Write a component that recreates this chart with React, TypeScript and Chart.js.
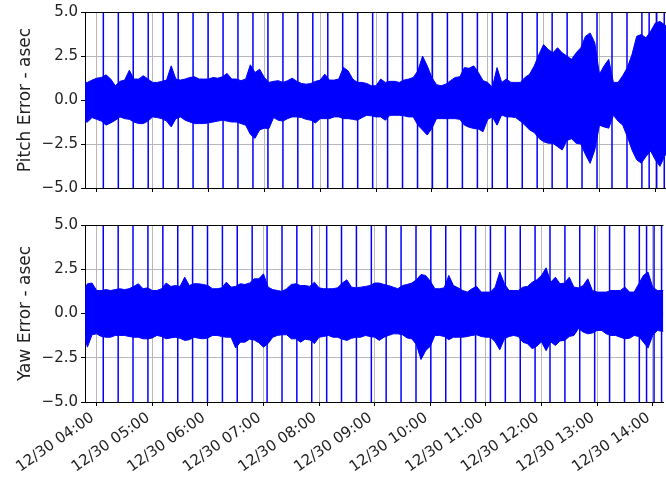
import React, { useEffect, useRef } from 'react';
import { Chart, registerables } from 'chart.js';

Chart.register(...registerables);

// Sample times (minutes after midnight, 12/30) for the envelope of the error signal
const SAMPLE_MINUTES = [
  227,
  230, 235, 240, 245, 250, 255, 260, 265, 270, 275,
  280, 285, 290, 295, 300, 305, 310, 315, 320, 325,
  330, 335, 340, 345, 350, 355, 360, 365, 370, 375,
  380, 385, 390, 395, 400, 405, 410, 415, 420, 425,
  430, 435, 440, 445, 450, 455, 460, 465, 470, 475,
  480, 485, 490, 495, 500, 505, 510, 515, 520, 525,
  530, 535, 540, 545, 550, 555, 560, 565, 570, 575,
  580, 585, 590, 595, 600, 605, 610, 615, 620, 625,
  630, 635, 640, 645, 650, 655, 660, 665, 670, 675,
  680, 685, 690, 695, 700, 705, 710, 715, 720, 725,
  730, 735, 740, 745, 750, 755, 760, 765, 770, 775,
  780, 785, 790, 795, 800, 805, 810, 815, 820, 825,
  830, 835, 840, 845, 850,
  852,
];

const PITCH_UPPER = [
  1.00,
  1.00, 1.13, 1.24, 1.28, 1.43, 1.19, 0.81, 1.06, 1.13, 1.69,
  1.19, 1.19, 1.38, 1.19, 1.00, 1.00, 1.06, 1.13, 1.94, 1.19,
  1.13, 1.19, 1.28, 1.32, 1.19, 1.19, 1.19, 1.28, 1.24, 1.32,
  1.51, 1.19, 1.19, 1.10, 1.19, 2.00, 1.56, 1.75, 1.28, 1.00,
  1.06, 1.10, 1.00, 1.10, 1.24, 1.06, 0.94, 0.90, 0.94, 1.06,
  1.13, 1.47, 1.13, 1.13, 1.19, 1.85, 1.66, 1.19, 1.00, 1.00,
  0.94, 0.81, 0.81, 1.19, 1.00, 1.06, 1.06, 1.00, 1.13, 1.19,
  1.28, 1.66, 2.50, 1.94, 1.28, 0.87, 0.81, 0.90, 1.10, 1.28,
  1.32, 1.84, 1.80, 1.94, 1.56, 1.10, 1.00, 0.72, 1.84, 1.00,
  1.19, 1.00, 1.00, 1.00, 1.28, 1.47, 1.94, 2.59, 3.15, 2.87,
  2.68, 2.97, 2.68, 2.50, 2.31, 2.68, 2.97, 3.62, 3.81, 3.25,
  1.47, 1.94, 2.31, 1.00, 1.00, 1.38, 1.84, 2.59, 3.62, 3.72,
  3.53, 3.90, 4.37, 4.46, 4.28,
  4.19,
];

const PITCH_LOWER = [
  -1.25,
  -1.25, -1.00, -1.10, -1.20, -1.43, -1.30, -1.15, -0.96, -1.06, -1.10,
  -1.25, -1.34, -1.34, -1.20, -0.96, -1.00, -1.06, -1.20, -1.53, -1.06,
  -0.96, -1.15, -1.25, -1.34, -1.34, -1.34, -1.30, -1.25, -1.20, -1.15,
  -1.20, -1.25, -1.25, -1.34, -1.43, -1.95, -2.18, -1.70, -1.60, -1.62,
  -1.00, -1.15, -1.20, -1.06, -0.96, -0.96, -1.00, -1.10, -1.15, -1.30,
  -1.06, -1.06, -1.06, -0.96, -0.96, -1.06, -1.06, -1.10, -1.15, -1.00,
  -0.87, -0.90, -0.96, -0.96, -1.15, -0.87, -0.87, -0.87, -0.90, -0.96,
  -0.96, -1.43, -1.71, -1.99, -1.62, -1.06, -1.06, -1.06, -1.06, -1.06,
  -1.10, -1.43, -1.55, -1.62, -1.65, -1.80, -1.10, -0.96, -1.43, -0.85,
  -0.96, -0.96, -1.00, -1.20, -1.43, -1.70, -1.85, -2.18, -2.37, -2.46,
  -2.46, -2.65, -2.84, -2.30, -2.20, -2.46, -2.50, -3.10, -3.60, -2.84,
  -1.43, -1.53, -1.60, -0.87, -1.20, -1.43, -2.09, -2.84, -3.40, -3.59,
  -3.21, -2.90, -3.40, -3.77, -3.20,
  -3.03,
];

const YAW_UPPER = [
  1.40,
  1.68, 1.72, 1.30, 1.30, 1.35, 1.30, 1.35, 1.40, 1.35, 1.40,
  1.53, 1.68, 1.40, 1.45, 1.30, 1.30, 1.40, 1.72, 1.53, 1.58,
  1.53, 2.05, 1.58, 1.68, 1.68, 1.64, 1.58, 1.40, 1.40, 1.45,
  1.77, 1.49, 1.53, 1.68, 1.64, 1.72, 1.96, 1.96, 2.24, 1.49,
  1.35, 1.30, 1.25, 1.40, 1.64, 1.68, 1.58, 1.58, 1.53, 1.77,
  1.45, 1.40, 1.40, 1.40, 1.45, 1.72, 1.90, 1.49, 1.45, 1.49,
  1.53, 1.58, 1.72, 1.72, 1.64, 1.58, 1.49, 1.40, 1.58, 1.64,
  1.72, 1.90, 2.20, 2.15, 1.83, 1.40, 1.40, 1.45, 2.15, 1.58,
  1.45, 1.30, 1.21, 1.40, 1.53, 1.21, 1.21, 1.21, 1.49, 2.34,
  1.68, 1.30, 1.30, 1.30, 1.49, 1.53, 1.77, 1.90, 2.15, 2.58,
  1.77, 2.05, 1.68, 1.72, 2.05, 1.49, 1.45, 1.58, 1.96, 1.30,
  1.21, 1.21, 1.21, 1.30, 1.30, 1.30, 1.49, 1.21, 1.21, 1.68,
  2.15, 2.34, 1.49, 1.30, 1.30,
  1.30,
];

const YAW_LOWER = [
  -1.34,
  -1.90, -1.20, -1.15, -1.30, -1.34, -1.34, -1.24, -1.24, -1.24, -1.30,
  -1.34, -1.34, -1.43, -1.43, -1.38, -1.24, -1.30, -1.43, -1.38, -1.34,
  -1.40, -1.52, -1.48, -1.34, -1.40, -1.43, -1.38, -1.24, -1.24, -1.30,
  -1.34, -1.34, -1.95, -1.62, -1.62, -1.45, -1.50, -1.65, -1.90, -1.70,
  -1.34, -1.24, -1.20, -1.20, -1.43, -1.43, -1.62, -1.45, -1.50, -1.70,
  -1.34, -1.30, -1.24, -1.34, -1.34, -1.45, -1.52, -1.40, -1.34, -1.34,
  -1.24, -1.30, -1.34, -1.52, -1.34, -1.24, -1.15, -1.15, -1.20, -1.38,
  -1.43, -1.75, -2.60, -2.10, -1.85, -1.24, -1.24, -1.30, -1.48, -1.34,
  -1.34, -1.34, -1.30, -1.24, -1.20, -1.30, -1.34, -1.34, -1.60, -2.05,
  -1.43, -1.30, -1.24, -1.30, -1.62, -1.71, -1.99, -1.85, -1.60, -2.10,
  -1.60, -1.81, -1.55, -1.52, -1.30, -1.24, -0.85, -1.05, -1.15, -1.10,
  -0.96, -0.96, -1.15, -1.24, -1.24, -1.34, -1.43, -1.40, -1.24, -1.30,
  -1.62, -1.95, -1.24, -0.96, -1.00,
  -1.00,
];

// Times (minutes) of the full-range outlier spikes
const SPIKE_MINUTES = [
  247.1, 263.2, 279.2, 295.3, 311.4, 327.5, 343.5, 359.6, 375.7, 391.7,
  407.8, 423.9, 440.0, 456.0, 472.1, 488.2, 504.2, 520.3, 536.4, 552.4,
  568.5, 584.6, 600.6, 616.7, 632.8, 648.9, 664.9, 681.0, 697.1, 713.1,
  729.2, 745.3, 761.3, 777.4, 793.5, 809.6, 825.6, 833.4, 841.5, 849.6,
];

const HOUR_TICKS = [240, 300, 360, 420, 480, 540, 600, 660, 720, 780, 840];
const HOUR_LABELS = [
  '12/30 04:00', '12/30 05:00', '12/30 06:00', '12/30 07:00', '12/30 08:00',
  '12/30 09:00', '12/30 10:00', '12/30 11:00', '12/30 12:00', '12/30 13:00',
  '12/30 14:00',
];
const Y_TICKS = [-5, -2.5, 0, 2.5, 5];

const X_MIN = 227.4;
const X_MAX = 851.5;
const BLUE = '#0000ff';
const FONT = { family: 'DejaVu Sans', size: 15 };
const TITLE_FONT = { family: 'DejaVu Sans', size: 17 };
const TEXT = '#222222';

const fmt = (v: number) => v.toFixed(1).replace('-', '\u2212');

const topBorder = {
  id: 'topBorder',
  afterDraw(chart: any) {
    const { ctx, chartArea } = chart;
    ctx.save();
    ctx.strokeStyle = '#000';
    ctx.lineWidth = 1;
    ctx.beginPath();
    ctx.moveTo(chartArea.left, Math.round(chartArea.top) + 0.5);
    ctx.lineTo(chartArea.right, Math.round(chartArea.top) + 0.5);
    ctx.stroke();
    ctx.restore();
  },
};

function buildConfig(upper: number[], lower: number[], title: string, showLabels: boolean, padTop: number, xHeight: number): any {
  const spikeData: any[] = [];
  SPIKE_MINUTES.forEach((t) => {
    spikeData.push({ x: t, y: -6 }, { x: t, y: 6 }, { x: t, y: null });
  });
  return {
    type: 'line',
    data: {
      datasets: [
        {
          data: spikeData,
          borderColor: BLUE,
          borderWidth: 1.5,
          pointRadius: 0,
          fill: false,
          spanGaps: false,
        },
        {
          data: SAMPLE_MINUTES.map((x, i) => ({ x, y: upper[i] })),
          borderColor: BLUE,
          backgroundColor: BLUE,
          borderWidth: 1,
          pointRadius: 0,
          tension: 0,
          fill: '+1',
        },
        {
          data: SAMPLE_MINUTES.map((x, i) => ({ x, y: lower[i] })),
          borderColor: BLUE,
          backgroundColor: BLUE,
          borderWidth: 1,
          pointRadius: 0,
          tension: 0,
          fill: false,
        },
      ],
    },
    options: {
      animation: false,
      responsive: false,
      events: [],
      layout: { padding: { top: padTop, left: 0, right: 0, bottom: 0 } },
      plugins: { legend: { display: false }, tooltip: { enabled: false } },
      scales: {
        x: {
          type: 'linear',
          min: X_MIN,
          max: X_MAX,
          afterBuildTicks: (s: any) => {
            s.ticks = HOUR_TICKS.map((v) => ({ value: v }));
          },
          afterFit: (s: any) => {
            s.height = xHeight;
          },
          grid: { color: '#b8b8b8', lineWidth: 1, tickColor: '#000', tickLength: 4, drawTicks: true },
          border: { display: true, color: '#000', width: 1 },
          ticks: {
            display: showLabels,
            autoSkip: false,
            minRotation: 35,
            maxRotation: 35,
            labelOffset: -4,
            font: FONT,
            color: TEXT,
            padding: 3,
            callback: (_v: any, i: number) => HOUR_LABELS[i],
          },
        },
        y: {
          type: 'linear',
          min: -5,
          max: 5,
          afterBuildTicks: (s: any) => {
            s.ticks = Y_TICKS.map((v) => ({ value: v }));
          },
          afterFit: (s: any) => {
            s.width = 85;
          },
          grid: { color: '#b8b8b8', lineWidth: 1, tickColor: '#000', tickLength: 4 },
          border: { display: true, color: '#000', width: 1 },
          ticks: { font: FONT, color: TEXT, padding: 3, callback: (v: any) => fmt(Number(v)) },
          title: { display: true, text: title, font: TITLE_FONT, color: TEXT, padding: { top: 15, bottom: 0 } },
        },
      },
    },
    plugins: [topBorder],
  };
}

function Panel(props: { upper: number[]; lower: number[]; title: string; showLabels: boolean; top: number; height: number; padTop: number; xHeight: number }) {
  const ref = useRef<HTMLCanvasElement>(null);
  useEffect(() => {
    if (!ref.current) return;
    const chart = new Chart(ref.current, buildConfig(props.upper, props.lower, props.title, props.showLabels, props.padTop, props.xHeight));
    return () => chart.destroy();
  }, []);
  return (
    <canvas
      ref={ref}
      width={666}
      height={props.height}
      style={{ position: 'absolute', left: 0, top: props.top, width: 666, height: props.height }}
    />
  );
}

export default function App() {
  return (
    <div style={{ position: 'fixed', left: 0, top: 0, width: 666, height: 491, overflow: 'hidden', background: '#fff' }}>
      <Panel upper={PITCH_UPPER} lower={PITCH_LOWER} title="Pitch Error - asec" showLabels={false} top={0} height={200} padTop={11} xHeight={12} />
      <Panel upper={YAW_UPPER} lower={YAW_LOWER} title="Yaw Error - asec" showLabels={true} top={200} height={291} padTop={25} xHeight={89} />
    </div>
  );
}
